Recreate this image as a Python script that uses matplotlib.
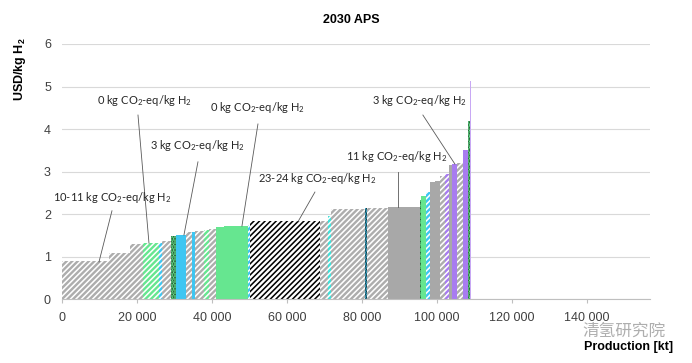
import numpy as np
import matplotlib
matplotlib.use("Agg")
import matplotlib.pyplot as plt

plt.rcParams['font.family'] = ['Liberation Sans', 'DejaVu Sans']
plt.rcParams['mathtext.default'] = 'regular'
plt.rcParams['hatch.linewidth'] = 1.7

# supply curve segments: width (kt), cost (USD/kg H2), style
widths = [12500, 5600, 3500, 4300, 800, 2500, 1200, 2700, 1600, 800,
          2400, 1300, 1900, 2100, 6400, 500, 18700, 2100, 800, 9100,
          500, 5600, 8500, 500, 1300, 1100, 1300, 1300, 1300, 1100,
          800, 1300, 1600, 1300, 500, 300]
costs = [0.90, 1.08, 1.31, 1.32, 1.33, 1.36, 1.48, 1.50, 1.57, 1.58,
         1.60, 1.62, 1.66, 1.70, 1.73, 1.75, 1.83, 1.85, 1.95, 2.13,
         2.14, 2.15, 2.18, 2.34, 2.42, 2.52, 2.75, 2.78, 2.90, 2.95,
         3.16, 3.18, 3.20, 3.51, 4.20, 5.12]
kinds = ['gh', 'gh', 'gh', 'grh', 'bh', 'gh', 'dk', 'b', 'gh', 'b',
         'gh', 'grh', 'gh', 'gr', 'gr', 'bh', 'kh', 'gh', 'ch', 'gh',
         'bd', 'gh', 'gs', 'dk', 'gr', 'bh', 'gs', 'gs', 'gh', 'ph',
         'gs', 'p', 'gh', 'p', 'dk', 'pl']

# (face, hatch colour, hatch)
styles = {
    'gh': ('white', '#adadad', '//////'),
    'grh': ('white', '#66e690', '//////'),
    'bh': ('white', '#3ec6f2', '//////'),
    'ch': ('white', '#3ee0d8', '//////'),
    'kh': ('black', 'white', '//////'),
    'dk': ('#1a3a20', '#66e690', '......'),
    'bd': ('#3ec6f2', '#1a3a40', '......'),
    'b': ('#3ec6f2', '#3ec6f2', ''),
    'gr': ('#66e690', '#66e690', ''),
    'gs': ('#a8a8a8', '#a8a8a8', ''),
    'ph': ('white', '#a87cf0', '//////'),
    'p': ('#a87cf0', '#a87cf0', ''),
    'pl': ('#c8a8f4', '#c8a8f4', ''),
}

notes = [
    ('10-11 kg CO$_2$-eq/kg H$_2$', (13330, 2.40), (13330, 2.08), (9870, 0.88)),
    ('0 kg CO$_2$-eq/kg H$_2$', (22130, 4.67), (20270, 4.33), (23200, 1.32)),
    ('3 kg CO$_2$-eq/kg H$_2$', (36270, 3.61), (36270, 3.23), (32530, 1.51)),
    ('0 kg CO$_2$-eq/kg H$_2$', (52270, 4.50), (52270, 4.12), (48000, 1.72)),
    ('23-24 kg CO$_2$-eq/kg H$_2$', (68000, 2.85), (67470, 2.52), (62930, 1.82)),
    ('11 kg CO$_2$-eq/kg H$_2$', (89330, 3.35), (89600, 3.00), (89600, 2.18)),
    ('3 kg CO$_2$-eq/kg H$_2$', (95470, 4.67), (96270, 4.33), (104800, 3.18)),
]

fig = plt.figure(figsize=(6.92, 3.63), dpi=100)
ax = fig.add_axes([0.0896, 0.1755, 0.8494, 0.7033])

lefts = np.concatenate([[0], np.cumsum(widths)[:-1]])
for x0, w, h, k in zip(lefts, widths, costs, kinds):
    face, hc, hatch = styles[k]
    ax.bar(x0, h, width=w, align='edge', color=face, edgecolor=hc,
           hatch=hatch, linewidth=0, zorder=2)

for txt, tpos, lstart, target in notes:
    ax.plot([lstart[0], target[0]], [lstart[1], target[1]], color='#595959',
            lw=0.6, zorder=3)
    ax.text(tpos[0], tpos[1], txt, ha='center', va='center', fontsize=8,
            family=['Lato', 'DejaVu Sans'], color='#262626', zorder=4)

ax.set_xlim(0, 156800)
ax.set_ylim(0, 6)
ax.set_yticks(range(7))
ax.set_xticks(range(0, 160000, 20000))
ax.set_xticklabels(['0', '20 000', '40 000', '60 000', '80 000', '100 000',
                    '120 000', '140 000'])
ax.grid(axis='y', color='#d9d9d9', lw=0.8, zorder=0)
ax.set_axisbelow(True)
for s in ['top', 'right', 'left']:
    ax.spines[s].set_visible(False)
ax.spines['bottom'].set_color('#bfbfbf')
ax.tick_params(axis='y', length=0, labelsize=9, labelcolor='#404040', pad=8)
ax.tick_params(axis='x', length=3, color='#bfbfbf', labelsize=9,
               labelcolor='#404040', pad=6)

fig.text(0.507, 0.945, '2030 APS', ha='center', va='center', fontsize=9,
         fontweight='bold')
fig.text(0.029, 0.81, 'USD/kg H$_2$', rotation=90, ha='center', va='center',
         fontsize=9, fontweight='bold')
fig.text(0.973, 0.045, 'Production [kt]', ha='right', va='center', fontsize=9,
         fontweight='bold')
fig.text(0.962, 0.088, '清氢研究院', ha='right', va='center', fontsize=12,
         family=['Noto Sans CJK SC', 'DejaVu Sans'], color='#9a9a9a', alpha=0.8)

fig.savefig('out.png', dpi=100)
